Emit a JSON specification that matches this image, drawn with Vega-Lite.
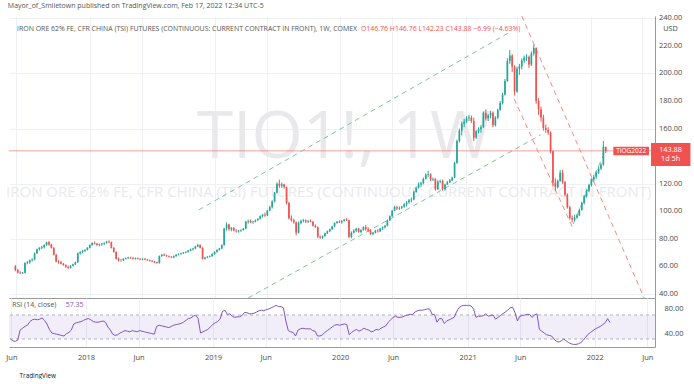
{
 "$schema": "https://vega.github.io/schema/vega-lite/v6.json",
 "background": "white",
 "padding": {"left": 5, "top": 2, "right": 0, "bottom": 0},
 "bounds": "flush",
 "spacing": 0,
 "title": {"text": "Mayor_of_Smiletown published on TradingView.com, Feb 17, 2022 12:34 UTC-5", "anchor": "start", "fontSize": 7.0, "fontWeight": "normal", "color": "#555555", "offset": 5, "dx": 2, "font": "Open Sans"},
 "config": {
  "font": "Open Sans",
  "view": {"stroke": null},
  "axis": {"labelFont": "Open Sans", "labelFontSize": 7.5, "labelColor": "#4a4a4a", "gridColor": "#eef0f4", "domainColor": "#9a9a9a", "ticks": false, "labelOverlap": false},
  "text": {"font": "Open Sans"}
 },
 "datasets": {
  "w": [
   {"t":"2017-05-29","o":60,"h":61,"l":56.5,"c":57.5,"r":30},
   {"t":"2017-06-05","o":57.5,"h":58,"l":55,"c":55.5,"r":27},
   {"t":"2017-06-12","o":55.5,"h":56.5,"l":54.5,"c":55,"r":26},
   {"t":"2017-06-19","o":55,"h":56,"l":54.5,"c":55.5,"r":28},
   {"t":"2017-06-26","o":55.5,"h":63,"l":55,"c":62.5,"r":45},
   {"t":"2017-07-03","o":62.5,"h":64,"l":61.5,"c":63,"r":48},
   {"t":"2017-07-10","o":63,"h":65,"l":62,"c":64.5,"r":51},
   {"t":"2017-07-17","o":64.5,"h":66,"l":63.5,"c":65,"r":53},
   {"t":"2017-07-24","o":65,"h":70,"l":64.5,"c":69.5,"r":59},
   {"t":"2017-07-31","o":69.5,"h":73,"l":69,"c":72.5,"r":62},
   {"t":"2017-08-07","o":72.5,"h":74,"l":71.5,"c":73.5,"r":63},
   {"t":"2017-08-14","o":73.5,"h":75,"l":72.5,"c":74,"r":62},
   {"t":"2017-08-21","o":74,"h":76,"l":73,"c":75.5,"r":63},
   {"t":"2017-08-28","o":75.5,"h":78,"l":75,"c":77.5,"r":65},
   {"t":"2017-09-04","o":77.5,"h":78.5,"l":75,"c":76,"r":61},
   {"t":"2017-09-11","o":76,"h":76.5,"l":73,"c":73.5,"r":55},
   {"t":"2017-09-18","o":73.5,"h":74,"l":68,"c":68.5,"r":46},
   {"t":"2017-09-25","o":68.5,"h":69,"l":63,"c":63.5,"r":40},
   {"t":"2017-10-02","o":63.5,"h":64.5,"l":62,"c":63,"r":39},
   {"t":"2017-10-09","o":63,"h":64,"l":61.5,"c":62,"r":38},
   {"t":"2017-10-16","o":62,"h":62.5,"l":60.5,"c":61,"r":37},
   {"t":"2017-10-23","o":61,"h":61.5,"l":59,"c":59.5,"r":36},
   {"t":"2017-10-30","o":59.5,"h":60.5,"l":58,"c":59,"r":35},
   {"t":"2017-11-06","o":59,"h":61,"l":58.5,"c":60.5,"r":39},
   {"t":"2017-11-13","o":60.5,"h":62,"l":60,"c":61.5,"r":41},
   {"t":"2017-11-20","o":61.5,"h":63.5,"l":61,"c":63,"r":45},
   {"t":"2017-11-27","o":63,"h":70,"l":62.5,"c":69.5,"r":55},
   {"t":"2017-12-04","o":69.5,"h":71,"l":68.5,"c":70.5,"r":57},
   {"t":"2017-12-11","o":70.5,"h":72,"l":69.5,"c":71,"r":58},
   {"t":"2017-12-18","o":71,"h":72.5,"l":70.5,"c":72,"r":59},
   {"t":"2017-12-25","o":72,"h":74,"l":71.5,"c":73.5,"r":61},
   {"t":"2018-01-01","o":73.5,"h":76,"l":73,"c":75.5,"r":63},
   {"t":"2018-01-08","o":75.5,"h":77.5,"l":75,"c":77,"r":64},
   {"t":"2018-01-15","o":77,"h":78,"l":76,"c":76.5,"r":62},
   {"t":"2018-01-22","o":76.5,"h":77,"l":75,"c":75.5,"r":59},
   {"t":"2018-01-29","o":75.5,"h":76.5,"l":74.5,"c":76,"r":58},
   {"t":"2018-02-05","o":76,"h":77,"l":75,"c":76.5,"r":58},
   {"t":"2018-02-12","o":76.5,"h":77.5,"l":75.5,"c":77,"r":59},
   {"t":"2018-02-19","o":77,"h":78.5,"l":76.5,"c":78,"r":60},
   {"t":"2018-02-26","o":78,"h":79,"l":77,"c":77.5,"r":58},
   {"t":"2018-03-05","o":77.5,"h":78,"l":73,"c":73.5,"r":50},
   {"t":"2018-03-12","o":73.5,"h":74,"l":70,"c":70.5,"r":45},
   {"t":"2018-03-19","o":70.5,"h":71,"l":65,"c":65.5,"r":38},
   {"t":"2018-03-26","o":65.5,"h":66.5,"l":63.5,"c":64.5,"r":36},
   {"t":"2018-04-02","o":64.5,"h":65.5,"l":63.5,"c":64.5,"r":37},
   {"t":"2018-04-09","o":64.5,"h":66,"l":64,"c":65.5,"r":40},
   {"t":"2018-04-16","o":65.5,"h":66.5,"l":65,"c":66,"r":42},
   {"t":"2018-04-23","o":66,"h":67,"l":65.5,"c":66.5,"r":44},
   {"t":"2018-04-30","o":66.5,"h":67,"l":65.5,"c":66,"r":43},
   {"t":"2018-05-07","o":66,"h":67,"l":65,"c":65.5,"r":42},
   {"t":"2018-05-14","o":65.5,"h":66.5,"l":65,"c":66,"r":44},
   {"t":"2018-05-21","o":66,"h":66.5,"l":65,"c":65.5,"r":43},
   {"t":"2018-05-28","o":65.5,"h":66,"l":64.5,"c":65,"r":42},
   {"t":"2018-06-04","o":65,"h":66,"l":64.5,"c":65.5,"r":44},
   {"t":"2018-06-11","o":65.5,"h":66,"l":64.5,"c":65,"r":43},
   {"t":"2018-06-18","o":65,"h":65.5,"l":64,"c":64.5,"r":42},
   {"t":"2018-06-25","o":64.5,"h":65,"l":63.5,"c":64,"r":41},
   {"t":"2018-07-02","o":64,"h":64.5,"l":63,"c":63.5,"r":40},
   {"t":"2018-07-09","o":63.5,"h":64,"l":62.5,"c":63,"r":39},
   {"t":"2018-07-16","o":63,"h":63.5,"l":62,"c":62.5,"r":38},
   {"t":"2018-07-23","o":62.5,"h":68,"l":62,"c":67.5,"r":51},
   {"t":"2018-07-30","o":67.5,"h":69,"l":67,"c":68.5,"r":53},
   {"t":"2018-08-06","o":68.5,"h":69.5,"l":67.5,"c":68,"r":52},
   {"t":"2018-08-13","o":68,"h":68.5,"l":67,"c":67.5,"r":51},
   {"t":"2018-08-20","o":67.5,"h":68,"l":66.5,"c":67,"r":50},
   {"t":"2018-08-27","o":67,"h":67.5,"l":66,"c":66.5,"r":49},
   {"t":"2018-09-03","o":66.5,"h":68,"l":66,"c":67.5,"r":51},
   {"t":"2018-09-10","o":67.5,"h":69,"l":67,"c":68.5,"r":53},
   {"t":"2018-09-17","o":68.5,"h":69.5,"l":68,"c":69,"r":54},
   {"t":"2018-09-24","o":69,"h":70,"l":68.5,"c":69.5,"r":55},
   {"t":"2018-10-01","o":69.5,"h":70.5,"l":69,"c":70,"r":56},
   {"t":"2018-10-08","o":70,"h":71,"l":69.5,"c":70.5,"r":58},
   {"t":"2018-10-15","o":70.5,"h":72,"l":70,"c":71.5,"r":61},
   {"t":"2018-10-22","o":71.5,"h":73,"l":71,"c":72.5,"r":64},
   {"t":"2018-10-29","o":72.5,"h":73.5,"l":71.5,"c":73,"r":65},
   {"t":"2018-11-05","o":73,"h":75,"l":72.5,"c":74.5,"r":68},
   {"t":"2018-11-12","o":74.5,"h":76.5,"l":74,"c":75.5,"r":70},
   {"t":"2018-11-19","o":75.5,"h":76,"l":73,"c":73.5,"r":64},
   {"t":"2018-11-26","o":73.5,"h":74,"l":65,"c":65.5,"r":40},
   {"t":"2018-12-03","o":65.5,"h":67,"l":65,"c":66.5,"r":42},
   {"t":"2018-12-10","o":66.5,"h":67.5,"l":66,"c":67,"r":44},
   {"t":"2018-12-17","o":67,"h":68,"l":66.5,"c":67.5,"r":46},
   {"t":"2018-12-24","o":67.5,"h":69.5,"l":67,"c":69,"r":50},
   {"t":"2018-12-31","o":69,"h":71,"l":68.5,"c":70.5,"r":54},
   {"t":"2019-01-07","o":70.5,"h":72.5,"l":70,"c":72,"r":57},
   {"t":"2019-01-14","o":72,"h":73.5,"l":71.5,"c":73,"r":59},
   {"t":"2019-01-21","o":73,"h":76,"l":72.5,"c":75.5,"r":63},
   {"t":"2019-01-28","o":75.5,"h":88,"l":75,"c":87.5,"r":76},
   {"t":"2019-02-04","o":87.5,"h":92,"l":86,"c":90.5,"r":78},
   {"t":"2019-02-11","o":90.5,"h":91,"l":86,"c":87,"r":71},
   {"t":"2019-02-18","o":87,"h":88.5,"l":85.5,"c":88,"r":72},
   {"t":"2019-02-25","o":88,"h":88.5,"l":85.5,"c":86,"r":68},
   {"t":"2019-03-04","o":86,"h":87,"l":84.5,"c":85.5,"r":66},
   {"t":"2019-03-11","o":85.5,"h":86.5,"l":84.5,"c":86,"r":67},
   {"t":"2019-03-18","o":86,"h":87,"l":85,"c":86.5,"r":67},
   {"t":"2019-03-25","o":86.5,"h":88,"l":86,"c":87.5,"r":69},
   {"t":"2019-04-01","o":87.5,"h":93,"l":87,"c":92.5,"r":74},
   {"t":"2019-04-08","o":92.5,"h":94,"l":91,"c":93,"r":74},
   {"t":"2019-04-15","o":93,"h":94,"l":91.5,"c":92,"r":72},
   {"t":"2019-04-22","o":92,"h":93,"l":91,"c":92.5,"r":72},
   {"t":"2019-04-29","o":92.5,"h":94,"l":92,"c":93.5,"r":73},
   {"t":"2019-05-06","o":93.5,"h":95,"l":93,"c":94.5,"r":75},
   {"t":"2019-05-13","o":94.5,"h":97,"l":94,"c":96.5,"r":77},
   {"t":"2019-05-20","o":96.5,"h":98,"l":95.5,"c":97.5,"r":78},
   {"t":"2019-05-27","o":97.5,"h":99,"l":96,"c":97,"r":77},
   {"t":"2019-06-03","o":97,"h":101,"l":96.5,"c":100.5,"r":79},
   {"t":"2019-06-10","o":100.5,"h":104,"l":100,"c":103,"r":80},
   {"t":"2019-06-17","o":103,"h":108,"l":102,"c":107,"r":82},
   {"t":"2019-06-24","o":107,"h":114,"l":106.5,"c":113.5,"r":84},
   {"t":"2019-07-01","o":113.5,"h":121,"l":113,"c":120,"r":86},
   {"t":"2019-07-08","o":120,"h":123,"l":117,"c":118.5,"r":84},
   {"t":"2019-07-15","o":118.5,"h":121,"l":117,"c":119.5,"r":84},
   {"t":"2019-07-22","o":119.5,"h":120,"l":116.5,"c":117.5,"r":82},
   {"t":"2019-07-29","o":117.5,"h":118,"l":105,"c":106,"r":60},
   {"t":"2019-08-05","o":106,"h":107,"l":94,"c":95,"r":44},
   {"t":"2019-08-12","o":95,"h":97,"l":92.5,"c":93.5,"r":42},
   {"t":"2019-08-19","o":93.5,"h":94.5,"l":91,"c":92,"r":41},
   {"t":"2019-08-26","o":92,"h":92.5,"l":82.5,"c":84.5,"r":35},
   {"t":"2019-09-02","o":84.5,"h":92.5,"l":84,"c":91.5,"r":45},
   {"t":"2019-09-09","o":91.5,"h":94,"l":90.5,"c":93,"r":47},
   {"t":"2019-09-16","o":93,"h":94.5,"l":92,"c":93.5,"r":48},
   {"t":"2019-09-23","o":93.5,"h":94,"l":91.5,"c":92.5,"r":47},
   {"t":"2019-09-30","o":92.5,"h":93.5,"l":91.5,"c":93,"r":47},
   {"t":"2019-10-07","o":93,"h":94,"l":92,"c":92.5,"r":47},
   {"t":"2019-10-14","o":92.5,"h":93,"l":89,"c":89.5,"r":44},
   {"t":"2019-10-21","o":89.5,"h":90.5,"l":88,"c":88.5,"r":43},
   {"t":"2019-10-28","o":88.5,"h":89,"l":80.5,"c":81.5,"r":35},
   {"t":"2019-11-04","o":81.5,"h":82.5,"l":80,"c":81,"r":35},
   {"t":"2019-11-11","o":81,"h":82.5,"l":80,"c":82,"r":37},
   {"t":"2019-11-18","o":82,"h":84.5,"l":81.5,"c":84,"r":41},
   {"t":"2019-11-25","o":84,"h":86,"l":83.5,"c":85.5,"r":44},
   {"t":"2019-12-02","o":85.5,"h":87.5,"l":85,"c":87,"r":47},
   {"t":"2019-12-09","o":87,"h":89.5,"l":86.5,"c":89,"r":50},
   {"t":"2019-12-16","o":89,"h":92,"l":88.5,"c":91.5,"r":53},
   {"t":"2019-12-23","o":91.5,"h":93,"l":91,"c":92.5,"r":54},
   {"t":"2019-12-30","o":92.5,"h":93.5,"l":91.5,"c":92,"r":53},
   {"t":"2020-01-06","o":92,"h":93.5,"l":91,"c":93,"r":54},
   {"t":"2020-01-13","o":93,"h":94.5,"l":92.5,"c":94,"r":55},
   {"t":"2020-01-20","o":94,"h":95,"l":93,"c":93.5,"r":54},
   {"t":"2020-01-27","o":93.5,"h":94,"l":80.5,"c":81.5,"r":37},
   {"t":"2020-02-03","o":81.5,"h":85.5,"l":80.5,"c":84.5,"r":41},
   {"t":"2020-02-10","o":84.5,"h":87,"l":84,"c":86,"r":44},
   {"t":"2020-02-17","o":86,"h":88,"l":85,"c":87.5,"r":46},
   {"t":"2020-02-24","o":87.5,"h":88,"l":84.5,"c":85,"r":43},
   {"t":"2020-03-02","o":85,"h":87,"l":84,"c":86.5,"r":45},
   {"t":"2020-03-09","o":86.5,"h":89,"l":86,"c":88.5,"r":48},
   {"t":"2020-03-16","o":88.5,"h":90,"l":86,"c":87,"r":46},
   {"t":"2020-03-23","o":87,"h":88.5,"l":85,"c":86,"r":45},
   {"t":"2020-03-30","o":86,"h":87,"l":83,"c":83.5,"r":42},
   {"t":"2020-04-06","o":83.5,"h":85,"l":82.5,"c":84.5,"r":43},
   {"t":"2020-04-13","o":84.5,"h":86.5,"l":84,"c":86,"r":46},
   {"t":"2020-04-20","o":86,"h":87,"l":84.5,"c":85.5,"r":45},
   {"t":"2020-04-27","o":85.5,"h":88,"l":85,"c":87.5,"r":48},
   {"t":"2020-05-04","o":87.5,"h":89,"l":86.5,"c":88.5,"r":50},
   {"t":"2020-05-11","o":88.5,"h":90,"l":87.5,"c":89.5,"r":52},
   {"t":"2020-05-18","o":89.5,"h":94,"l":89,"c":93.5,"r":58},
   {"t":"2020-05-25","o":93.5,"h":97,"l":93,"c":96.5,"r":62},
   {"t":"2020-06-01","o":96.5,"h":101,"l":96,"c":100.5,"r":66},
   {"t":"2020-06-08","o":100.5,"h":104,"l":100,"c":103,"r":68},
   {"t":"2020-06-15","o":103,"h":104,"l":101,"c":102,"r":66},
   {"t":"2020-06-22","o":102,"h":103.5,"l":101,"c":102.5,"r":66},
   {"t":"2020-06-29","o":102.5,"h":104,"l":101.5,"c":103.5,"r":67},
   {"t":"2020-07-06","o":103.5,"h":106,"l":102.5,"c":105,"r":69},
   {"t":"2020-07-13","o":105,"h":107.5,"l":103.5,"c":106.5,"r":70},
   {"t":"2020-07-20","o":106.5,"h":109,"l":105.5,"c":108,"r":71},
   {"t":"2020-07-27","o":108,"h":110,"l":106.5,"c":108.5,"r":71},
   {"t":"2020-08-03","o":108.5,"h":115,"l":108,"c":114,"r":75},
   {"t":"2020-08-10","o":114,"h":118,"l":113.5,"c":117,"r":77},
   {"t":"2020-08-17","o":117,"h":121,"l":116.5,"c":119.5,"r":78},
   {"t":"2020-08-24","o":119.5,"h":121.5,"l":117.5,"c":120.5,"r":78},
   {"t":"2020-08-31","o":120.5,"h":124.5,"l":119.5,"c":123.5,"r":79},
   {"t":"2020-09-07","o":123.5,"h":127.5,"l":123,"c":126.5,"r":80},
   {"t":"2020-09-14","o":126.5,"h":129.5,"l":125,"c":127,"r":80},
   {"t":"2020-09-21","o":127,"h":127.5,"l":122,"c":123,"r":71},
   {"t":"2020-09-28","o":123,"h":124.5,"l":122,"c":123.5,"r":71},
   {"t":"2020-10-05","o":123.5,"h":124,"l":115,"c":116,"r":58},
   {"t":"2020-10-12","o":116,"h":122.5,"l":115.5,"c":121.5,"r":64},
   {"t":"2020-10-19","o":121.5,"h":123,"l":120.5,"c":122,"r":64},
   {"t":"2020-10-26","o":122,"h":123,"l":115,"c":116,"r":56},
   {"t":"2020-11-02","o":116,"h":120,"l":115,"c":119.5,"r":60},
   {"t":"2020-11-09","o":119.5,"h":122,"l":119,"c":121,"r":62},
   {"t":"2020-11-16","o":121,"h":123.5,"l":120.5,"c":122.5,"r":64},
   {"t":"2020-11-23","o":122.5,"h":125,"l":122,"c":124.5,"r":66},
   {"t":"2020-11-30","o":124.5,"h":136,"l":124,"c":135,"r":75},
   {"t":"2020-12-07","o":135,"h":152,"l":134.5,"c":151,"r":82},
   {"t":"2020-12-14","o":151,"h":160,"l":150,"c":158.5,"r":85},
   {"t":"2020-12-21","o":158.5,"h":165,"l":155,"c":163.5,"r":86},
   {"t":"2020-12-28","o":163.5,"h":167,"l":161,"c":165,"r":86},
   {"t":"2021-01-04","o":165,"h":169,"l":164,"c":167.5,"r":86},
   {"t":"2021-01-11","o":167.5,"h":170,"l":165.5,"c":168,"r":85},
   {"t":"2021-01-18","o":168,"h":169.5,"l":164,"c":165.5,"r":80},
   {"t":"2021-01-25","o":165.5,"h":168,"l":151,"c":153.5,"r":66},
   {"t":"2021-02-01","o":153.5,"h":159,"l":152.5,"c":158,"r":68},
   {"t":"2021-02-08","o":158,"h":161,"l":156.5,"c":159.5,"r":68},
   {"t":"2021-02-15","o":159.5,"h":162.5,"l":157,"c":161,"r":69},
   {"t":"2021-02-22","o":161,"h":172.5,"l":160.5,"c":171.5,"r":72},
   {"t":"2021-03-01","o":171.5,"h":174,"l":166,"c":167.5,"r":68},
   {"t":"2021-03-08","o":167.5,"h":170.5,"l":165.5,"c":169.5,"r":69},
   {"t":"2021-03-15","o":169.5,"h":173,"l":167.5,"c":171.5,"r":70},
   {"t":"2021-03-22","o":171.5,"h":172.5,"l":161,"c":162.5,"r":63},
   {"t":"2021-03-29","o":162.5,"h":169,"l":161.5,"c":168,"r":66},
   {"t":"2021-04-05","o":168,"h":174.5,"l":167,"c":173.5,"r":69},
   {"t":"2021-04-12","o":173.5,"h":180,"l":173,"c":178.5,"r":72},
   {"t":"2021-04-19","o":178.5,"h":186,"l":177.5,"c":184.5,"r":75},
   {"t":"2021-04-26","o":184.5,"h":196,"l":184,"c":194.5,"r":78},
   {"t":"2021-05-03","o":194.5,"h":211,"l":194,"c":209,"r":82},
   {"t":"2021-05-10","o":209,"h":217,"l":207,"c":213,"r":83},
   {"t":"2021-05-17","o":213,"h":214,"l":201,"c":205,"r":74},
   {"t":"2021-05-24","o":205,"h":206,"l":184,"c":187,"r":60},
   {"t":"2021-05-31","o":187,"h":205,"l":186,"c":203.5,"r":68},
   {"t":"2021-06-07","o":203.5,"h":207,"l":199,"c":205,"r":69},
   {"t":"2021-06-14","o":205,"h":211,"l":203,"c":209.5,"r":70},
   {"t":"2021-06-21","o":209.5,"h":213,"l":207.5,"c":211.5,"r":71},
   {"t":"2021-06-28","o":211.5,"h":214,"l":209,"c":212,"r":71},
   {"t":"2021-07-05","o":212,"h":213,"l":204,"c":206.5,"r":66},
   {"t":"2021-07-12","o":206.5,"h":216,"l":205.5,"c":214.5,"r":70},
   {"t":"2021-07-19","o":214.5,"h":221,"l":213,"c":218.5,"r":72},
   {"t":"2021-07-26","o":218.5,"h":219,"l":178,"c":180,"r":46},
   {"t":"2021-08-02","o":180,"h":182,"l":170,"c":174,"r":43},
   {"t":"2021-08-09","o":174,"h":176,"l":165,"c":168,"r":40},
   {"t":"2021-08-16","o":168,"h":170,"l":158.5,"c":160.5,"r":37},
   {"t":"2021-08-23","o":160.5,"h":163,"l":157,"c":159,"r":36},
   {"t":"2021-08-30","o":159,"h":161,"l":155.5,"c":157,"r":35},
   {"t":"2021-09-06","o":157,"h":158,"l":142,"c":143.5,"r":30},
   {"t":"2021-09-13","o":143.5,"h":144,"l":118,"c":121,"r":26},
   {"t":"2021-09-20","o":121,"h":124,"l":115,"c":117.5,"r":25},
   {"t":"2021-09-27","o":117.5,"h":123,"l":116.5,"c":122,"r":27},
   {"t":"2021-10-04","o":122,"h":130,"l":121.5,"c":128,"r":30},
   {"t":"2021-10-11","o":128,"h":130,"l":120,"c":121,"r":27},
   {"t":"2021-10-18","o":121,"h":122,"l":111,"c":112,"r":24},
   {"t":"2021-10-25","o":112,"h":113,"l":102,"c":103,"r":22},
   {"t":"2021-11-01","o":103,"h":104,"l":94,"c":95,"r":21},
   {"t":"2021-11-08","o":95,"h":97,"l":92,"c":94,"r":21},
   {"t":"2021-11-15","o":94,"h":97.5,"l":93,"c":95.5,"r":22},
   {"t":"2021-11-22","o":95.5,"h":98,"l":94.5,"c":97,"r":24},
   {"t":"2021-11-29","o":97,"h":102,"l":96.5,"c":101,"r":28},
   {"t":"2021-12-06","o":101,"h":107,"l":100.5,"c":106,"r":33},
   {"t":"2021-12-13","o":106,"h":112,"l":105,"c":111,"r":38},
   {"t":"2021-12-20","o":111,"h":116,"l":110,"c":115,"r":41},
   {"t":"2021-12-27","o":115,"h":120,"l":114,"c":119,"r":44},
   {"t":"2022-01-03","o":119,"h":124,"l":118,"c":123,"r":47},
   {"t":"2022-01-10","o":123,"h":126.5,"l":121.5,"c":125,"r":49},
   {"t":"2022-01-17","o":125,"h":129,"l":123.5,"c":128,"r":51},
   {"t":"2022-01-24","o":128,"h":132.5,"l":127,"c":131,"r":54},
   {"t":"2022-01-31","o":131,"h":135,"l":130,"c":134,"r":57},
   {"t":"2022-02-07","o":134,"h":151,"l":133,"c":146.76,"r":64},
   {"t":"2022-02-14","o":146.76,"h":146.76,"l":142.23,"c":143.88,"r":57.35}
  ],
  "green": [
   {"id":"g1","t":"2018-11-15","p":101.0},{"id":"g1","t":"2021-05-11","p":230.1},
   {"id":"g2","t":"2019-04-08","p":37.1},{"id":"g2","t":"2021-08-08","p":155.4},
   {"id":"g3","t":"2021-11-11","p":90.8},{"id":"g3","t":"2022-02-11","p":143.0}
  ],
  "red": [
   {"id":"r1","t":"2021-06-14","p":241.7},{"id":"r1","t":"2022-06-06","p":37.1},
   {"id":"r2","t":"2021-05-23","p":181.5},{"id":"r2","t":"2021-11-11","p":87.2}
  ],
  "ticks": [{"v":40},{"v":60},{"v":80},{"v":100},{"v":120},{"v":160},{"v":180},{"v":200},{"v":220},{"v":240}]
 },
 "vconcat": [
  {
   "width": 646,
   "height": 282,
   "layer": [
    {
     "data": {"name": "w"},
     "mark": {"type": "rule", "strokeWidth": 1, "opacity": 0},
     "encoding": {
      "x": {"field": "t", "type": "temporal", "title": null,
            "scale": {"domain": [{"year": 2017, "month": 5, "date": 25}, {"year": 2022, "month": 6, "date": 23}]},
            "axis": {"values": [{"year": 2017, "month": 6, "date": 1}, {"year": 2018, "month": 1, "date": 1}, {"year": 2018, "month": 6, "date": 1}, {"year": 2019, "month": 1, "date": 1}, {"year": 2019, "month": 6, "date": 1}, {"year": 2020, "month": 1, "date": 1}, {"year": 2020, "month": 6, "date": 1}, {"year": 2021, "month": 1, "date": 1}, {"year": 2021, "month": 6, "date": 1}, {"year": 2022, "month": 1, "date": 1}, {"year": 2022, "month": 6, "date": 1}],
                     "labels": false, "grid": true, "domain": true, "title": null}},
      "y": {"field": "l", "type": "quantitative", "title": null,
            "scale": {"domain": [37.1, 241.7], "zero": false, "nice": false},
            "axis": {"orient": "right", "values": [40, 60, 80, 100, 120, 140, 160, 180, 200, 220, 240], "labels": false, "grid": true, "title": null}},
      "y2": {"field": "h"}
     }
    },
    {
     "data": {"values": [{"s": "TIO1!, 1W"}]},
     "mark": {"type": "text", "fontSize": 66, "color": "#e9e9ec", "align": "center", "baseline": "middle"},
     "encoding": {
      "x": {"datum": {"year": 2020, "month": 1, "date": 12}, "type": "temporal"},
      "y": {"datum": 153.2, "type": "quantitative"},
      "text": {"field": "s"}
     }
    },
    {
     "data": {"values": [{"s": "IRON ORE 62% FE, CFR CHINA (TSI) FUTURES (CONTINUOUS: CURRENT CONTRACT IN FRONT)"}]},
     "mark": {"type": "text", "fontSize": 15, "color": "#e9e9ec", "align": "center", "baseline": "middle"},
     "encoding": {
      "x": {"datum": {"year": 2019, "month": 11, "date": 29}, "type": "temporal"},
      "y": {"datum": 114, "type": "quantitative"},
      "text": {"field": "s"}
     }
    },
    {
     "data": {"values": [{}]},
     "mark": {"type": "rule", "color": "#ef5350", "opacity": 0.55, "strokeWidth": 1},
     "encoding": {"y": {"datum": 143.88, "type": "quantitative"}}
    },
    {
     "data": {"name": "green"},
     "mark": {"type": "line", "color": "#7cc79a", "strokeWidth": 1, "strokeDash": [5, 4], "clip": true},
     "encoding": {
      "x": {"field": "t", "type": "temporal", "title": null},
      "y": {"field": "p", "type": "quantitative", "title": null},
      "detail": {"field": "id"}
     }
    },
    {
     "data": {"name": "red"},
     "mark": {"type": "line", "color": "#f28b82", "strokeWidth": 1, "strokeDash": [5, 4], "clip": true},
     "encoding": {
      "x": {"field": "t", "type": "temporal", "title": null},
      "y": {"field": "p", "type": "quantitative", "title": null},
      "detail": {"field": "id"}
     }
    },
    {
     "data": {"name": "w"},
     "mark": {"type": "rule", "strokeWidth": 1},
     "encoding": {
      "x": {"field": "t", "type": "temporal", "title": null},
      "y": {"field": "l", "type": "quantitative", "title": null},
      "y2": {"field": "h"},
      "color": {"condition": {"test": "datum.c >= datum.o", "value": "#26a69a"}, "value": "#ef5350"}
     }
    },
    {
     "data": {"name": "w"},
     "mark": {"type": "bar", "width": 1.7},
     "encoding": {
      "x": {"field": "t", "type": "temporal", "title": null},
      "y": {"field": "o", "type": "quantitative", "title": null},
      "y2": {"field": "c"},
      "color": {"condition": {"test": "datum.c >= datum.o", "value": "#26a69a"}, "value": "#ef5350"}
     }
    },
    {
     "data": {"name": "ticks"},
     "mark": {"type": "text", "fontSize": 7.5, "color": "#4a4a4a", "align": "left", "baseline": "middle", "clip": false},
     "encoding": {
      "x": {"datum": {"year": 2022, "month": 7, "date": 19}, "type": "temporal"},
      "y": {"field": "v", "type": "quantitative", "title": null},
      "text": {"field": "v", "type": "quantitative", "format": ".2f"}
     }
    },
    {
     "data": {"values": [{"s": "IRON ORE 62% FE, CFR CHINA (TSI) FUTURES (CONTINUOUS: CURRENT CONTRACT IN FRONT), 1W, COMEX"}]},
     "mark": {"type": "text", "fontSize": 6.95, "color": "#555555", "align": "left", "baseline": "middle"},
     "encoding": {
      "x": {"datum": {"year": 2017, "month": 6, "date": 3}, "type": "temporal"},
      "y": {"datum": 232.3, "type": "quantitative"},
      "text": {"field": "s"}
     }
    },
    {
     "data": {"values": [{"s": "O146.76  H146.76  L142.23  C143.88  −6.99 (−4.63%)"}]},
     "mark": {"type": "text", "fontSize": 6.95, "color": "#ef5350", "align": "left", "baseline": "middle"},
     "encoding": {
      "x": {"datum": {"year": 2020, "month": 3, "date": 2}, "type": "temporal"},
      "y": {"datum": 232.3, "type": "quantitative"},
      "text": {"field": "s"}
     }
    },
    {
     "data": {"values": [{}]},
     "mark": {"type": "rect", "color": "#ef5350", "clip": false},
     "encoding": {
      "x": {"datum": {"year": 2022, "month": 3, "date": 8}, "type": "temporal"},
      "x2": {"datum": {"year": 2022, "month": 6, "date": 20}},
      "y": {"datum": 146.9, "type": "quantitative"},
      "y2": {"datum": 140.7}
     }
    },
    {
     "data": {"values": [{"s": "TIOG2022"}]},
     "mark": {"type": "text", "fontSize": 6.5, "color": "white", "align": "center", "baseline": "middle"},
     "encoding": {
      "x": {"datum": {"year": 2022, "month": 4, "date": 29}, "type": "temporal"},
      "y": {"datum": 143.8, "type": "quantitative"},
      "text": {"field": "s"}
     }
    },
    {
     "data": {"values": [{}]},
     "mark": {"type": "rect", "color": "#ef5350", "clip": false},
     "encoding": {
      "x": {"datum": {"year": 2022, "month": 6, "date": 26}, "type": "temporal"},
      "x2": {"datum": {"year": 2022, "month": 10, "date": 19}},
      "y": {"datum": 149.6, "type": "quantitative"},
      "y2": {"datum": 132.9}
     }
    },
    {
     "data": {"values": [{"s": "143.88", "p": 144.6}, {"s": "1d 5h", "p": 137.6}]},
     "mark": {"type": "text", "fontSize": 7.3, "color": "white", "align": "center", "baseline": "middle", "clip": false},
     "encoding": {
      "x": {"datum": {"year": 2022, "month": 8, "date": 22}, "type": "temporal"},
      "y": {"field": "p", "type": "quantitative", "title": null},
      "text": {"field": "s"}
     }
    },
    {
     "data": {"values": [{"s": "USD"}]},
     "mark": {"type": "text", "fontSize": 7.3, "color": "#4a4a4a", "align": "center", "baseline": "middle", "clip": false},
     "encoding": {
      "x": {"datum": {"year": 2022, "month": 8, "date": 22}, "type": "temporal"},
      "y": {"datum": 232.3, "type": "quantitative"},
      "text": {"field": "s"}
     }
    }
   ]
  },
  {
   "width": 646,
   "height": 49,
   "layer": [
    {
     "data": {"values": [{}]},
     "mark": {"type": "rect", "color": "#7e57c2", "opacity": 0.1},
     "encoding": {
      "y": {"datum": 70, "type": "quantitative",
            "scale": {"domain": [16.7, 98.3], "zero": false, "nice": false},
            "axis": {"orient": "right", "values": [40, 80], "format": ".2f", "grid": false, "labelPadding": 9, "title": null}},
      "y2": {"datum": 30}
     }
    },
    {
     "data": {"values": [{"v": 70}, {"v": 30}]},
     "mark": {"type": "rule", "color": "#9598a1", "strokeDash": [3, 3], "opacity": 0.7},
     "encoding": {"y": {"field": "v", "type": "quantitative", "title": null}}
    },
    {
     "data": {"name": "w"},
     "mark": {"type": "line", "color": "#7e57c2", "strokeWidth": 1},
     "encoding": {
      "x": {"field": "t", "type": "temporal",
            "scale": {"domain": [{"year": 2017, "month": 5, "date": 25}, {"year": 2022, "month": 6, "date": 23}]},
            "axis": {"values": [{"year": 2017, "month": 6, "date": 1}, {"year": 2018, "month": 1, "date": 1}, {"year": 2018, "month": 6, "date": 1}, {"year": 2019, "month": 1, "date": 1}, {"year": 2019, "month": 6, "date": 1}, {"year": 2020, "month": 1, "date": 1}, {"year": 2020, "month": 6, "date": 1}, {"year": 2021, "month": 1, "date": 1}, {"year": 2021, "month": 6, "date": 1}, {"year": 2022, "month": 1, "date": 1}, {"year": 2022, "month": 6, "date": 1}],
                     "labelExpr": "month(datum.value) == 0 ? timeFormat(datum.value, '%Y') : 'Jun'",
                     "grid": true, "labelPadding": 6,
                     "title": "TradingView", "titleFontSize": 6.4, "titleFontWeight": "normal", "titleColor": "#131722", "titleAlign": "left", "titleAnchor": "start", "titleBaseline": "middle", "titleX": 10, "titleY": 28}},
      "y": {"field": "r", "type": "quantitative", "title": null}
     }
    },
    {
     "data": {"values": [{"s": "RSI (14, close)"}]},
     "mark": {"type": "text", "fontSize": 7, "color": "#555555", "align": "left", "baseline": "middle"},
     "encoding": {
      "x": {"datum": {"year": 2017, "month": 6, "date": 3}, "type": "temporal"},
      "y": {"datum": 86.7, "type": "quantitative"},
      "text": {"field": "s"}
     }
    },
    {
     "data": {"values": [{"s": "57.35"}]},
     "mark": {"type": "text", "fontSize": 7, "color": "#7e57c2", "align": "left", "baseline": "middle"},
     "encoding": {
      "x": {"datum": {"year": 2017, "month": 11, "date": 4}, "type": "temporal"},
      "y": {"datum": 86.7, "type": "quantitative"},
      "text": {"field": "s"}
     }
    }
   ]
  }
 ]
}
